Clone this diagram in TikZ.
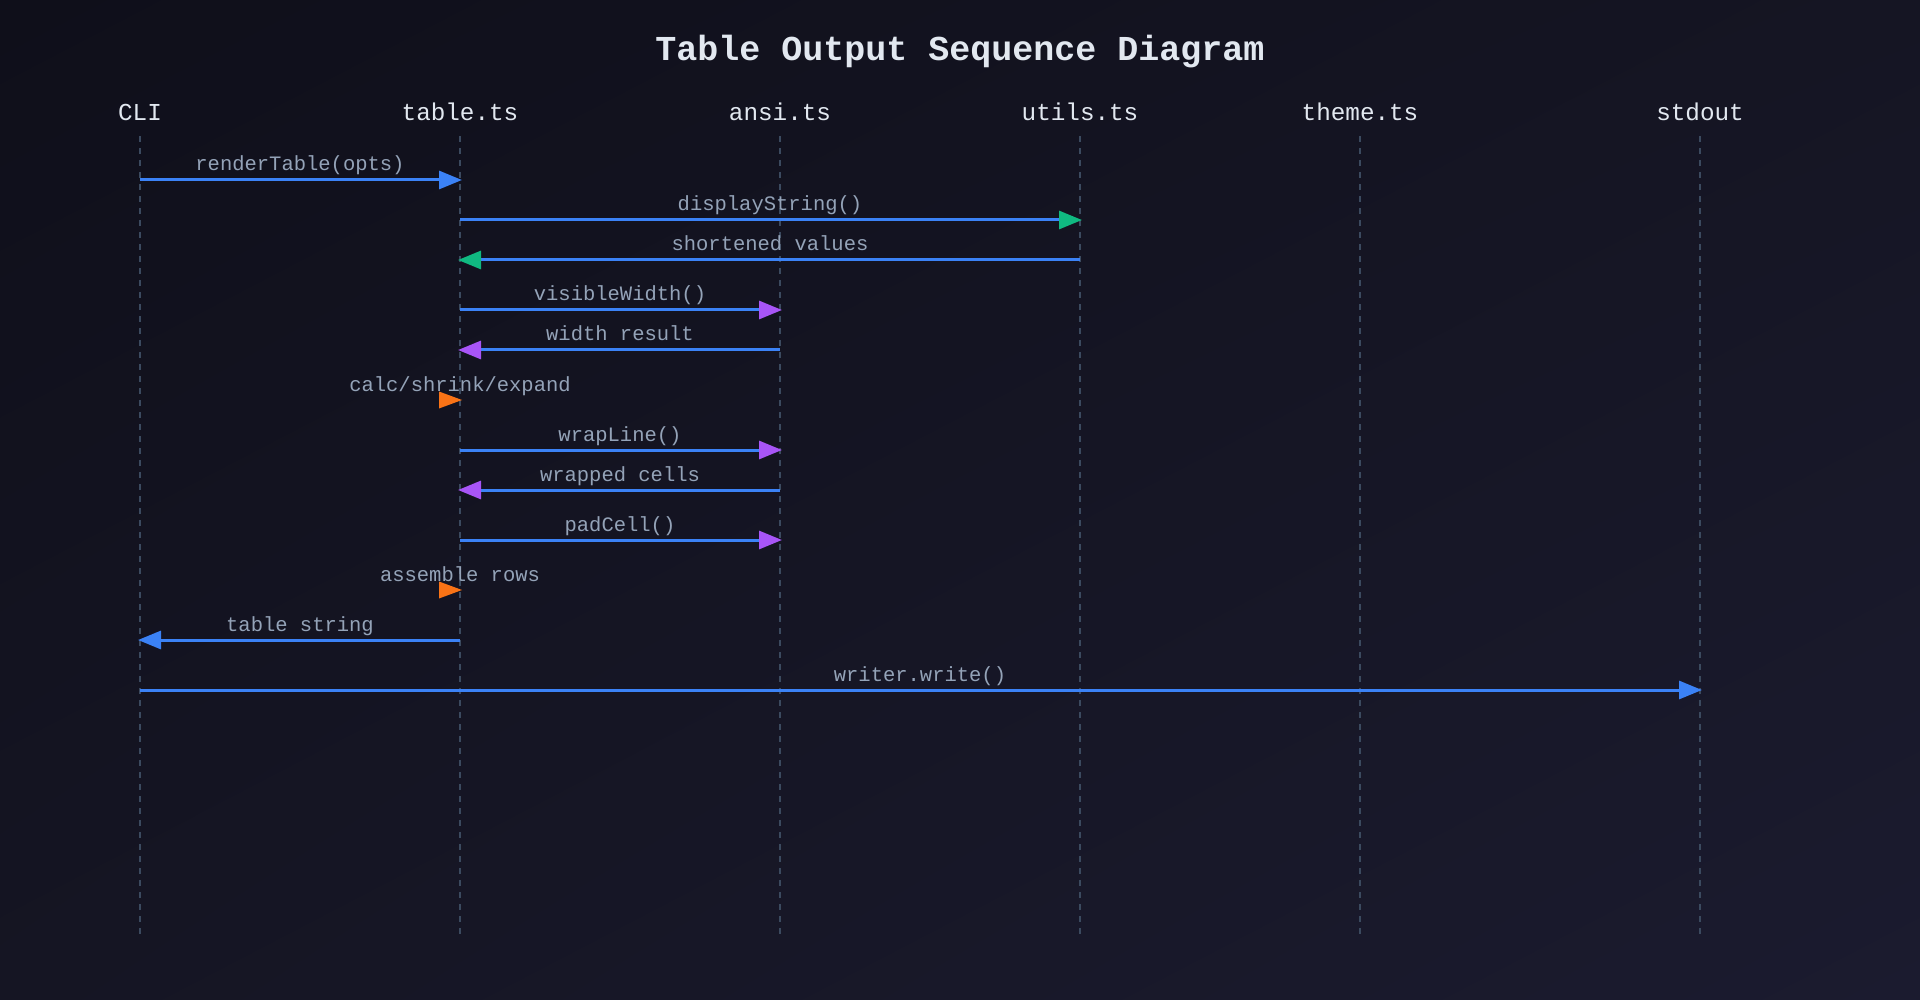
\documentclass[tikz,border=0pt]{standalone}
\usepackage{fontspec}
\usetikzlibrary{arrows.meta,shadings}
\newfontfamily\mono{Liberation Mono}
\definecolor{bgA}{HTML}{0F0F1A}
\definecolor{bgM}{HTML}{151523}
\definecolor{bgB}{HTML}{1B1B2F}
\definecolor{titlec}{HTML}{E2E8F0}
\definecolor{partc}{HTML}{E2E8F0}
\definecolor{labc}{HTML}{94A3B8}
\definecolor{lifec}{HTML}{3B4A5F}
\definecolor{msgblue}{HTML}{3B82F6}
\definecolor{utilgreen}{HTML}{10B981}
\definecolor{ansipurple}{HTML}{A855F7}
\definecolor{selforange}{HTML}{F97316}
\begin{document}
\begin{tikzpicture}[x=1pt,y=-1pt,
  lifeline/.style={draw=lifec, line width=1.5pt, dash pattern=on 6pt off 6pt},
  msg/.style={draw=msgblue, line width=3pt},
  head/.style={-{Triangle[length=23pt,width=18pt,color=#1]}},
  lbl/.style={font=\mono\fontsize{20.5}{24}\selectfont, text=labc, anchor=base, inner sep=0pt},
  part/.style={font=\mono\fontsize{24.3}{28}\selectfont, text=partc, anchor=base, inner sep=0pt},
  selfhead/.style={fill=selforange}]
\shade[upper left=bgA, lower right=bgB, upper right=bgM, lower left=bgM] (0,0) rectangle (1920,1000);
\useasboundingbox (0,0) rectangle (1920,1000);

\node[anchor=base, inner sep=0pt, text=titlec, font=\mono\bfseries\fontsize{35}{40}\selectfont] (title) at (960,61) {Table Output Sequence Diagram};

% participants
\node[part] (cli) at (140,121) {CLI};
\node[part] (tab) at (460,121) {table.ts};
\node[part] (ansi) at (780,121) {ansi.ts};
\node[part] (utils) at (1080,121) {utils.ts};
\node[part] (theme) at (1360,121) {theme.ts};
\node[part] (out) at (1700,121) {stdout};

% lifelines
\foreach \n/\x in {cli/140, tab/460, ansi/780, utils/1080, theme/1360, out/1700} {
  \coordinate (\n T) at (\x,136);
  \coordinate (\n B) at (\x,934);
  \draw[lifeline] (\n T) -- (\n B);
}

% 1 renderTable
\draw[msg, head=msgblue] (cliT |- 0,180) -- ([xshift=2pt]tabT |- 0,180);
\node[lbl] (l1) at (300,171) {renderTable(opts)};
% 2 displayString
\draw[msg, head=utilgreen] (tabT |- 0,220) -- ([xshift=2pt]utilsT |- 0,220);
\node[lbl] (l2) at (770,211) {displayString()};
% 3 shortened values
\draw[msg, head=utilgreen] (utilsT |- 0,260) -- ([xshift=-2pt]tabT |- 0,260);
\node[lbl] (l3) at (770,251) {shortened values};
% 4 visibleWidth
\draw[msg, head=ansipurple] (tabT |- 0,310) -- ([xshift=2pt]ansiT |- 0,310);
\node[lbl] (l4) at (620,301) {visibleWidth()};
% 5 width result
\draw[msg, head=ansipurple] (ansiT |- 0,350) -- ([xshift=-2pt]tabT |- 0,350);
\node[lbl] (l5) at (620,341) {width result};
% 6 self calc
\coordinate (s1) at ([xshift=2pt]tabT |- 0,400);
\fill[selfhead] (s1) -- ++(-23,-8.5) -- ++(0,17) -- cycle;
\node[lbl] (l6) at (460,391) {calc/shrink/expand};
% 7 wrapLine
\draw[msg, head=ansipurple] (tabT |- 0,450) -- ([xshift=2pt]ansiT |- 0,450);
\node[lbl] (l7) at (620,441) {wrapLine()};
% 8 wrapped cells
\draw[msg, head=ansipurple] (ansiT |- 0,490) -- ([xshift=-2pt]tabT |- 0,490);
\node[lbl] (l8) at (620,481) {wrapped cells};
% 9 padCell
\draw[msg, head=ansipurple] (tabT |- 0,540) -- ([xshift=2pt]ansiT |- 0,540);
\node[lbl] (l9) at (620,531) {padCell()};
% 10 self assemble
\coordinate (s2) at ([xshift=2pt]tabT |- 0,590);
\fill[selfhead] (s2) -- ++(-23,-8.5) -- ++(0,17) -- cycle;
\node[lbl] (l10) at (460,581) {assemble rows};
% 11 table string
\draw[msg, head=msgblue] (tabT |- 0,640) -- ([xshift=-2pt]cliT |- 0,640);
\node[lbl] (l11) at (300,631) {table string};
% 12 writer.write
\draw[msg, head=msgblue] (cliT |- 0,690) -- ([xshift=2pt]outT |- 0,690);
\node[lbl] (l12) at (920,681) {writer.write()};
\end{tikzpicture}
\end{document}
